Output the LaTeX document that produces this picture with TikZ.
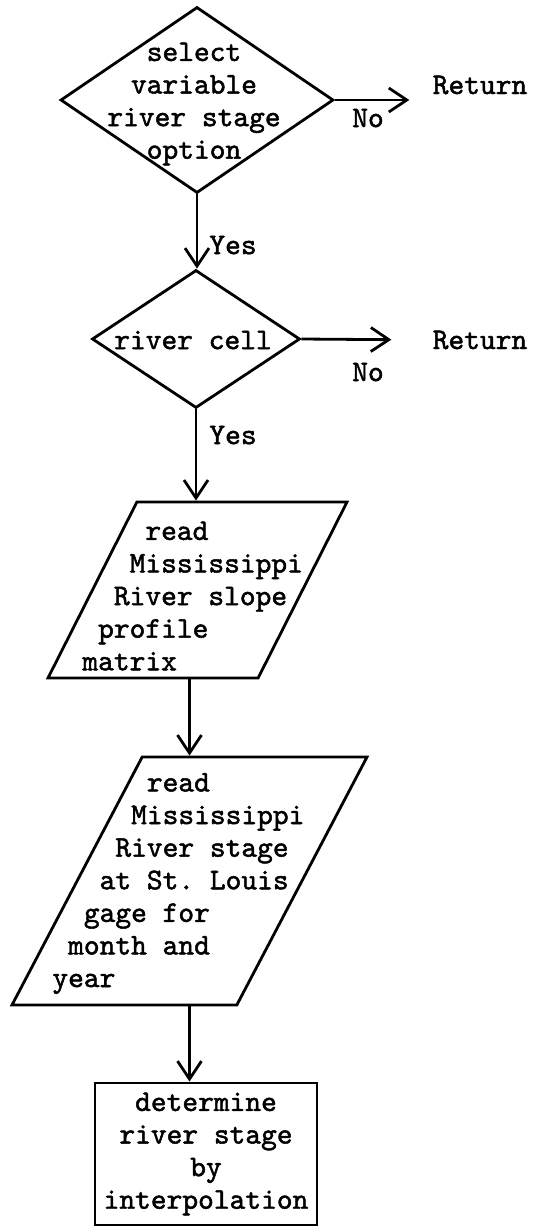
\documentclass[tikz,border=0pt]{standalone}
\usepackage{fontspec}
\usepackage{tikz}
\usetikzlibrary{arrows.meta,shapes.geometric}
\newfontfamily\typer{lmmono10-regular.otf}[RawFeature={embolden=1.6}]
\newcommand{\ind}[1]{\hspace*{#1\dimexpr 0.525em\relax}}

\begin{document}
\begin{tikzpicture}[
  x=0.5pt, y=-0.5pt,
  every node/.style={font=\fontsize{15pt}{16.3pt}\typer\frenchspacing,
    inner sep=0pt},
  decision/.style={diamond, draw, line width=1.4pt, inner sep=0pt},
  iobox/.style={trapezium, trapezium stretches body=true, draw, line width=1.4pt,
    inner sep=1pt},
  process/.style={rectangle, draw, line width=1.4pt, align=center},
  flow/.style={line width=1.4pt, -{Straight Barb[length=9pt,width=12pt]}}
]
\useasboundingbox (0,0) rectangle (535,1227);

% First test: is the option switched on?
\node[decision, minimum width=136.5pt, minimum height=93pt] (option) at (197,100) {};
\node[align=center] (optiontext) at (194,104) {select\\variable\\river stage\\option};
\node (return1) at (480,85) {Return};
\node (no1) at (368,118) {No};
\node (yes1) at (233,245) {Yes};

% Second test: river cell?
\node[decision, minimum width=104pt, minimum height=69pt] (cell) at (196,339) {};
\node (celltext) at (193,340) {river cell};
\node (return2) at (480,340) {Return};
\node (no2) at (368,372) {No};
\node (yes2) at (233,435) {Yes};

% Input steps
\node[iobox, trapezium left angle=63.2, trapezium right angle=116.8,
  minimum width=149.5pt] (slope) at (197.5,590) {\rule{0pt}{86pt}};
\node[align=left, anchor=west] (slopetext) at (82,596)
  {\ind{4}read\\\ind{3}Mississippi\\\ind{2}River slope\\\ind{1}profile\\matrix};
\node[iobox, trapezium left angle=62.3, trapezium right angle=117.7,
  minimum width=177.5pt] (gage) at (189.5,881) {\rule{0pt}{122pt}};
\node[align=left, anchor=west] (gagetext) at (52,883.5)
  {\ind{6}read\\\ind{5}Mississippi\\\ind{4}River stage\\\ind{3}at St. Louis\\
   \ind{2}gage for\\\ind{1}month and\\year};

% Result
\node[process, minimum width=111pt, minimum height=71pt] (interp) at (206,1154)
  {determine\\river stage\\by\\interpolation};

% Connectors
\draw[flow] (option.east) -- ([xshift=-11.5pt]option.east -| return1.west);
\draw[flow] (option.south) -- (option.south |- cell.north);
\draw[flow, shorten >=20.5pt] (cell.east) -- (return2.west);
\draw[flow] (cell.south) -- (cell.south |- slope.north);
\draw[flow] (slope.south -| gage.north) -- (gage.north);
\draw[flow] (gage.south) -- (gage.south |- interp.north);
\end{tikzpicture}
\end{document}
